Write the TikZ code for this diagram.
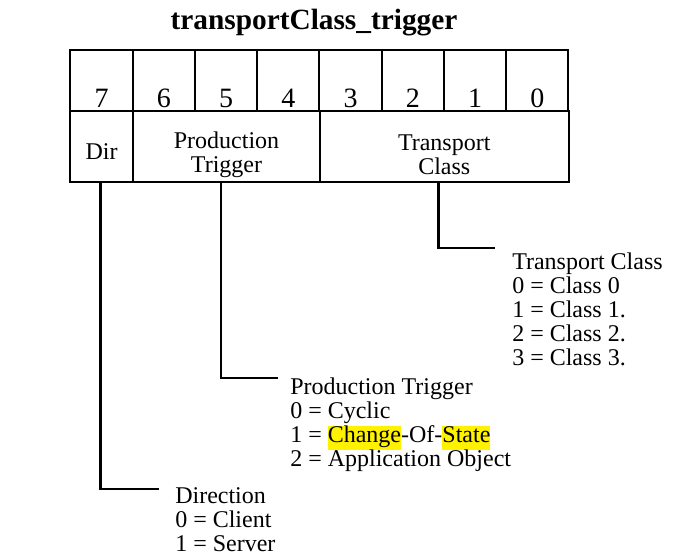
\documentclass[tikz,border=0pt]{standalone}
\usepackage{fontspec}
\setmainfont{Liberation Serif}
\usepackage{tikz}
\usetikzlibrary{positioning}
\newcommand{\hlt}[1]{{\setlength{\fboxsep}{0pt}\colorbox{yellow}{\strut #1}}}

\begin{document}
\begin{tikzpicture}[x=0.75pt,y=-0.75pt,
    cell/.style={draw,line width=1.4pt,minimum width=46.7pt,inner sep=0pt},
    bit cell/.style={cell,minimum height=45.75pt},
    field cell/.style={cell,minimum height=53.25pt},
    field text/.style={align=center,inner sep=0pt,font=\fontsize{18}{18}\selectfont},
    digit/.style={anchor=base,yshift=3pt,font=\fontsize{21}{21}\selectfont},
    note/.style={anchor=north west,align=left,inner sep=0pt,font=\fontsize{18}{18}\selectfont},
    wire/.style={line width=2.2pt}]

    \useasboundingbox (0,0) rectangle (684,559);

    \node[font=\bfseries\fontsize{22}{26}\selectfont] (title) at (314,23) {transportClass\_trigger};

    \foreach \b [evaluate=\b as \x using 101.5+62.25*(7-\b)] in {7,...,0}
        \node[bit cell,label={[digit]south:\b}] (b\b) at (\x,80.5) {};

    \node[field cell,label={[field text,yshift=-5.5*0.75pt]center:Dir}] (dir) at (101.5,146.5) {};
    \node[field cell,minimum width=140.25pt,label={[field text,yshift=-8*0.75pt]center:Production\\Trigger}] (prod) at (226.5,146.5) {};
    \node[field cell,minimum width=186.75pt,label={[field text,yshift=-8.5*0.75pt]center:Transport\\Class}] (trans) at (444.25,146.5) {};

    \coordinate (tcend) at (495,248);
    \node[note] (tcnote) at (512,253) {Transport Class\\0 = Class 0\\1 = Class 1.\\2 = Class 2.\\3 = Class 3.};

    \coordinate (ptend) at (278,378);
    \node[note] (ptnote) at (290,378) {Production Trigger\\0 = Cyclic\\1 = \hlt{Change}-Of-\hlt{State}\\2 = Application Object};

    \coordinate (dirend) at (159,489);
    \node[note] (dirnote) at (175,487) {Direction\\0 = Client\\1 = Server};

    \draw[wire] ([xshift=-5.5*0.75pt]trans.south) |- (tcend);
    \draw[wire] ([xshift=-5.5*0.75pt]prod.south) |- (ptend);
    \draw[wire] ([xshift=-1*0.75pt]dir.south) |- (dirend);
\end{tikzpicture}
\end{document}
